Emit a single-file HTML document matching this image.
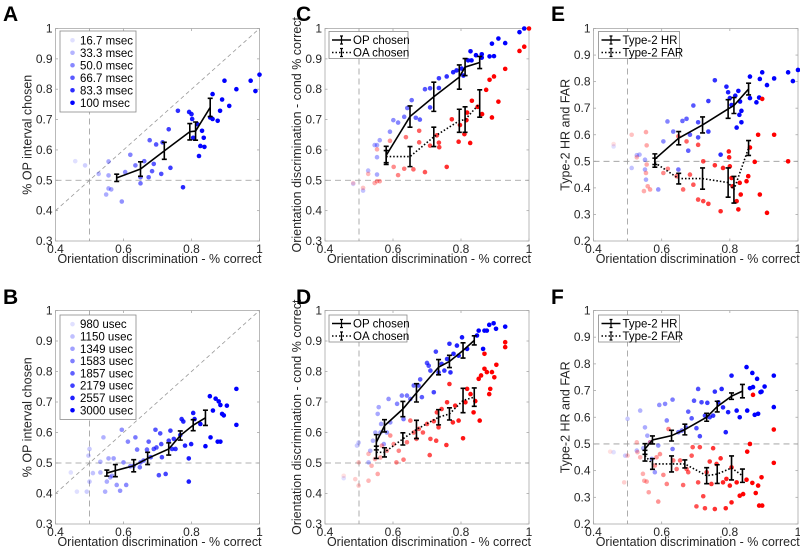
<!DOCTYPE html>
<html><head><meta charset="utf-8"><style>
html,body{margin:0;padding:0;background:#fff;}
svg{display:block;font-family:"Liberation Sans",sans-serif;}
</style></head><body>
<svg id="fig" width="800" height="555" viewBox="0 0 800 555"></svg>
<script>
const xMeansTop=[0.58,0.65,0.72,0.795,0.812,0.855];
const aMeanY=[0.508,0.537,0.597,0.66,0.662,0.74];
const aErr=[0.012,0.024,0.028,0.027,0.03,0.03];
const aPtsX=[0.458,0.487,0.527,0.556,0.556,0.549,0.556,0.564,0.595,0.605,0.62,0.635,0.65,0.65,0.661,0.674,0.677,0.684,0.689,0.696,0.711,0.715,0.733,0.738,0.76,0.775,0.793,0.8,0.802,0.805,0.817,0.822,0.826,0.831,0.836,0.838,0.855,0.862,0.862,0.877,0.884,0.89,0.897,0.911,0.932,0.974,0.988,1.0];
const aPtsY=[0.563,0.549,0.521,0.562,0.516,0.453,0.473,0.47,0.43,0.527,0.584,0.549,0.49,0.51,0.563,0.51,0.632,0.53,0.554,0.618,0.521,0.625,0.668,0.541,0.729,0.477,0.725,0.718,0.702,0.64,0.685,0.58,0.613,0.663,0.64,0.61,0.707,0.784,0.702,0.696,0.729,0.766,0.828,0.745,0.8,0.828,0.794,0.848];
const cOpY=[0.582,0.71,0.775,0.84,0.873,0.888];
const cOpErr=[0.03,0.035,0.048,0.04,0.028,0.02];
const cOaY=[0.578,0.578,0.643,0.696,0.7,0.753];
const cOaErr=[0.02,0.033,0.032,0.038,0.042,0.045];
const cBlueX=[0.483,0.512,0.527,0.546,0.553,0.553,0.553,0.561,0.591,0.601,0.615,0.633,0.642,0.655,0.667,0.679,0.694,0.709,0.709,0.735,0.735,0.758,0.777,0.787,0.802,0.807,0.821,0.828,0.831,0.844,0.861,0.861,0.884,0.891,0.897,0.91,0.93,0.972,0.986];
const cBlueY=[0.488,0.466,0.532,0.616,0.616,0.519,0.576,0.632,0.66,0.698,0.69,0.709,0.738,0.764,0.706,0.7,0.8,0.803,0.74,0.836,0.804,0.842,0.856,0.862,0.868,0.845,0.895,0.925,0.895,0.912,0.915,0.904,0.908,0.95,0.909,0.967,0.952,0.988,1.0];
const cRedX=[0.483,0.512,0.527,0.546,0.553,0.553,0.561,0.591,0.602,0.615,0.633,0.638,0.66,0.677,0.677,0.694,0.709,0.729,0.735,0.736,0.758,0.773,0.793,0.797,0.81,0.816,0.818,0.827,0.832,0.849,0.862,0.874,0.884,0.891,0.897,0.91,0.93,0.972,0.986,1.0];
const cRedY=[0.491,0.475,0.521,0.491,0.497,0.602,0.497,0.63,0.544,0.517,0.538,0.642,0.536,0.663,0.625,0.527,0.614,0.648,0.624,0.609,0.544,0.701,0.627,0.682,0.652,0.698,0.723,0.623,0.762,0.742,0.718,0.798,0.831,0.707,0.842,0.759,0.867,0.926,0.94,1.0];
const eHrY=[0.508,0.587,0.637,0.697,0.71,0.772];
const eHrErr=[0.02,0.025,0.03,0.035,0.03,0.022];
const eFarY=[0.495,0.435,0.435,0.42,0.393,0.55];
const eFarErr=[0.017,0.02,0.04,0.055,0.05,0.028];
const eBlueX=[0.459,0.512,0.527,0.535,0.551,0.554,0.551,0.59,0.605,0.617,0.634,0.649,0.661,0.673,0.678,0.683,0.693,0.707,0.707,0.737,0.737,0.756,0.773,0.79,0.795,0.8,0.805,0.816,0.825,0.828,0.83,0.834,0.82,0.834,0.859,0.859,0.878,0.886,0.888,0.895,0.909,0.93,0.971,0.985,1.0];
const eBlueY=[0.556,0.475,0.523,0.525,0.506,0.431,0.469,0.394,0.575,0.65,0.612,0.469,0.652,0.66,0.54,0.6,0.71,0.647,0.59,0.727,0.612,0.805,0.525,0.781,0.76,0.738,0.712,0.747,0.765,0.675,0.725,0.69,0.627,0.647,0.819,0.738,0.722,0.74,0.81,0.835,0.787,0.812,0.835,0.802,0.844];
const eRedX=[0.459,0.512,0.527,0.548,0.554,0.556,0.554,0.559,0.556,0.566,0.605,0.618,0.644,0.649,0.663,0.673,0.683,0.693,0.707,0.707,0.722,0.722,0.737,0.756,0.773,0.78,0.797,0.798,0.8,0.805,0.808,0.82,0.825,0.829,0.832,0.849,0.854,0.859,0.873,0.883,0.888,0.895,0.93,0.909,0.971];
const eRedY=[0.565,0.6,0.515,0.388,0.61,0.56,0.456,0.406,0.488,0.394,0.456,0.472,0.444,0.594,0.394,0.575,0.45,0.412,0.562,0.356,0.5,0.35,0.34,0.485,0.312,0.475,0.537,0.515,0.481,0.437,0.406,0.35,0.319,0.419,0.375,0.425,0.444,0.552,0.498,0.6,0.375,0.735,0.6,0.306,0.5];
const bMeanX=[0.551,0.576,0.63,0.671,0.733,0.767,0.805,0.841];
const bMeanY=[0.467,0.475,0.491,0.515,0.546,0.59,0.624,0.648];
const bErr=[0.01,0.02,0.02,0.02,0.02,0.015,0.018,0.025];
const bPtsX=[0.445,0.463,0.492,0.497,0.5,0.5,0.51,0.532,0.532,0.541,0.546,0.551,0.556,0.561,0.566,0.571,0.58,0.59,0.595,0.6,0.608,0.613,0.62,0.63,0.635,0.64,0.648,0.65,0.659,0.669,0.674,0.68,0.689,0.694,0.697,0.704,0.708,0.711,0.713,0.724,0.733,0.738,0.743,0.748,0.753,0.767,0.771,0.776,0.781,0.792,0.792,0.799,0.805,0.809,0.826,0.841,0.854,0.856,0.863,0.871,0.88,0.877,0.885,0.885,0.89,0.895,0.904,0.932,0.932];
const bPtsY=[0.469,0.406,0.406,0.524,0.546,0.439,0.467,0.469,0.504,0.584,0.406,0.439,0.515,0.453,0.458,0.515,0.428,0.409,0.609,0.502,0.428,0.57,0.489,0.491,0.584,0.544,0.486,0.502,0.508,0.544,0.57,0.519,0.546,0.609,0.551,0.46,0.597,0.562,0.519,0.464,0.573,0.606,0.546,0.579,0.546,0.592,0.644,0.636,0.557,0.515,0.439,0.562,0.664,0.644,0.628,0.555,0.719,0.584,0.672,0.711,0.702,0.57,0.57,0.69,0.661,0.656,0.688,0.743,0.625];
const dMeanX=[0.551,0.575,0.629,0.669,0.734,0.766,0.806,0.839];
const dOpY=[0.568,0.622,0.677,0.73,0.814,0.833,0.869,0.902];
const dOpErr=[0.025,0.02,0.025,0.03,0.025,0.02,0.025,0.015];
const dOaY=[0.535,0.535,0.579,0.61,0.65,0.661,0.705,0.716];
const dOaErr=[0.02,0.015,0.02,0.03,0.025,0.02,0.04,0.03];
const dBlueX=[0.455,0.494,0.499,0.528,0.533,0.541,0.548,0.555,0.558,0.563,0.565,0.573,0.582,0.587,0.592,0.612,0.626,0.631,0.641,0.651,0.661,0.675,0.68,0.685,0.7,0.705,0.71,0.72,0.726,0.734,0.743,0.751,0.759,0.766,0.769,0.778,0.788,0.793,0.803,0.818,0.847,0.852,0.865,0.869,0.876,0.883,0.896,0.903,0.93];
const dBlueY=[0.45,0.557,0.567,0.502,0.54,0.573,0.6,0.661,0.683,0.6,0.628,0.562,0.6,0.71,0.633,0.694,0.721,0.644,0.721,0.71,0.754,0.754,0.774,0.716,0.828,0.819,0.803,0.732,0.865,0.797,0.825,0.803,0.841,0.891,0.797,0.858,0.885,0.852,0.912,0.874,0.918,0.934,0.874,0.934,0.934,0.953,0.958,0.94,0.947];
const dRedX=[0.455,0.489,0.499,0.499,0.528,0.528,0.537,0.547,0.555,0.563,0.567,0.582,0.592,0.602,0.61,0.617,0.631,0.641,0.651,0.661,0.669,0.676,0.688,0.7,0.708,0.71,0.72,0.727,0.729,0.734,0.743,0.757,0.759,0.766,0.776,0.783,0.793,0.806,0.813,0.818,0.828,0.837,0.842,0.852,0.855,0.859,0.869,0.869,0.876,0.883,0.886,0.891,0.898,0.904,0.93,0.93];
const dRedY=[0.458,0.447,0.426,0.502,0.442,0.53,0.491,0.513,0.464,0.518,0.557,0.54,0.59,0.562,0.502,0.54,0.511,0.568,0.639,0.6,0.579,0.612,0.6,0.628,0.526,0.579,0.637,0.573,0.666,0.617,0.677,0.559,0.699,0.759,0.633,0.688,0.639,0.581,0.699,0.743,0.726,0.666,0.703,0.776,0.639,0.787,0.858,0.809,0.798,0.726,0.743,0.798,0.781,0.822,0.896,0.88];
const fMeanX=[0.551,0.573,0.629,0.668,0.732,0.763,0.805,0.837];
const fHrY=[0.481,0.515,0.531,0.554,0.6,0.64,0.679,0.698];
const fHrErr=[0.02,0.015,0.02,0.02,0.015,0.02,0.012,0.025];
const fFarY=[0.456,0.425,0.425,0.425,0.381,0.387,0.41,0.381];
const fFarErr=[0.02,0.02,0.03,0.015,0.03,0.035,0.045,0.025];
const fBlueX=[0.459,0.493,0.5,0.527,0.537,0.546,0.551,0.558,0.566,0.571,0.58,0.59,0.593,0.61,0.615,0.632,0.632,0.649,0.659,0.671,0.678,0.688,0.695,0.702,0.707,0.712,0.717,0.727,0.734,0.741,0.751,0.756,0.766,0.776,0.78,0.788,0.795,0.805,0.82,0.829,0.849,0.851,0.859,0.866,0.868,0.873,0.88,0.883,0.89,0.893,0.902,0.929,0.929];
const fBlueY=[0.469,0.456,0.594,0.475,0.625,0.484,0.562,0.531,0.506,0.444,0.394,0.494,0.646,0.65,0.588,0.481,0.666,0.544,0.55,0.562,0.621,0.596,0.662,0.559,0.706,0.529,0.656,0.606,0.654,0.6,0.606,0.696,0.656,0.706,0.637,0.544,0.619,0.756,0.625,0.6,0.788,0.625,0.709,0.766,0.713,0.609,0.744,0.613,0.694,0.696,0.715,0.756,0.638];
const fRedX=[0.449,0.49,0.5,0.527,0.529,0.537,0.545,0.549,0.556,0.562,0.566,0.58,0.585,0.59,0.595,0.605,0.615,0.62,0.634,0.644,0.654,0.663,0.673,0.678,0.688,0.691,0.702,0.707,0.712,0.722,0.727,0.732,0.741,0.746,0.751,0.756,0.761,0.773,0.78,0.788,0.79,0.8,0.805,0.805,0.82,0.829,0.839,0.849,0.851,0.859,0.866,0.868,0.876,0.883,0.886,0.893,0.895,0.929,0.929];
const fRedY=[0.471,0.356,0.456,0.506,0.469,0.45,0.388,0.362,0.359,0.319,0.506,0.419,0.45,0.284,0.462,0.384,0.35,0.556,0.438,0.406,0.438,0.346,0.406,0.394,0.456,0.488,0.266,0.356,0.488,0.304,0.259,0.394,0.434,0.35,0.484,0.256,0.425,0.446,0.356,0.259,0.369,0.344,0.281,0.412,0.356,0.306,0.312,0.366,0.471,0.5,0.354,0.684,0.316,0.344,0.269,0.375,0.269,0.429,0.554];
const xTicks=[0.4,0.6,0.8,1];
const yTicks37=[0.3,0.4,0.5,0.6,0.7,0.8,0.9,1];
const yTicks27=[0.2,0.3,0.4,0.5,0.6,0.7,0.8,0.9,1];
const bLegend=["980 usec","1150 usec","1349 usec","1583 usec","1857 usec","2179 usec","2557 usec","3000 usec"];
const aLegend=["16.7 msec","33.3 msec","50.0 msec","66.7 msec","83.3 msec","100 msec"];

const NS="http://www.w3.org/2000/svg";
const svg=document.getElementById('fig');
function el(tag,attrs,parent,text){const e=document.createElementNS(NS,tag);for(const k in attrs)e.setAttribute(k,attrs[k]);if(text!==undefined)e.textContent=text;(parent||svg).appendChild(e);return e;}
function fmt(v){return v===1?"1":v.toFixed(1);}
function alphaFor(x){let t=(x-0.46)/0.38;t=Math.max(0,Math.min(1,t));return 0.12+0.88*t;}

function makePanel(name,L,R,T,B,ymin,ymax,yt,ytitle,letter,lx,ly){
  const g=el('g',{});  
  const sx=v=>L+(v-0.4)/0.6*(R-L);
  const sy=v=>B-(v-ymin)/(ymax-ymin)*(B-T);
  const ax=el('rect',{x:L,y:T,width:R-L,height:B-T,fill:'none',stroke:'#a8a8a8','stroke-width':0.8},g);
   
  xTicks.forEach(v=>{
    el('line',{x1:sx(v),x2:sx(v),y1:B,y2:B-2.5,stroke:'#a8a8a8','stroke-width':0.8},g);
    el('line',{x1:sx(v),x2:sx(v),y1:T,y2:T+2.5,stroke:'#a8a8a8','stroke-width':0.8},g);
    const t=el('text',{x:sx(v),y:B+12,'font-size':12,'text-anchor':'middle',fill:'#262626'},g,fmt(v));
     
  });
  yt.forEach(v=>{
    el('line',{x1:L,x2:L+2.5,y1:sy(v),y2:sy(v),stroke:'#a8a8a8','stroke-width':0.8},g);
    el('line',{x1:R,x2:R-2.5,y1:sy(v),y2:sy(v),stroke:'#a8a8a8','stroke-width':0.8},g);
    const t=el('text',{x:L-3,y:sy(v)+4,'font-size':12,'text-anchor':'end',fill:'#262626'},g,fmt(v));
     
  });
  const xt=el('text',{x:(L+R)/2+2,y:B+22,'font-size':12.5,'text-anchor':'middle',fill:'#262626',textLength:204,lengthAdjust:'spacingAndGlyphs'},g,'Orientation discrimination - % correct');
   
  const cy=(T+B)/2, cx=L-24;
  const ytl=el('text',{x:cx,y:cy,'font-size':12.5,'text-anchor':'middle',fill:'#262626',transform:`rotate(-90 ${cx} ${cy})`},g,ytitle);
   
  const lt=el('text',{x:lx,y:ly,'font-size':21,'font-weight':'bold',fill:'#000'},svg,letter);
   
  el('line',{x1:L,x2:R,y1:sy(0.5),y2:sy(0.5),stroke:'#999','stroke-width':0.8,'stroke-dasharray':'6,4'},g);
  el('line',{x1:sx(0.5),x2:sx(0.5),y1:T,y2:B,stroke:'#999','stroke-width':0.8,'stroke-dasharray':'6,4'},g);
  return {g,sx,sy,L,R,T,B};
}
function scatter(p,xs,ys,color,name){
  xs.forEach((x,i)=>{
    const c=el('circle',{cx:p.sx(x),cy:p.sy(ys[i]),r:2.3,fill:color,'fill-opacity':alphaFor(x)},p.g);
     
  });
}
function errLine(p,xs,ys,es,dashed,name){
  const d=xs.map((x,i)=>(i?'L':'M')+p.sx(x)+','+p.sy(ys[i])).join(' ');
  const pl=el('path',{d,fill:'none',stroke:'#000','stroke-width':1.6,'stroke-dasharray':dashed?'1.5,2':'none'},p.g);
   
  xs.forEach((x,i)=>{
    const X=p.sx(x),y1=p.sy(ys[i]-es[i]),y2=p.sy(ys[i]+es[i]);
    const e=el('path',{d:`M${X},${y1}L${X},${y2}M${X-2.5},${y1}L${X+2.5},${y1}M${X-2.5},${y2}L${X+2.5},${y2}`,stroke:'#000','stroke-width':1.6,fill:'none'},p.g);
     
  });
}
function diag(p){el('line',{x1:p.sx(0.4),y1:p.sy(0.4),x2:p.sx(1),y2:p.sy(1),stroke:'#999','stroke-width':0.8,'stroke-dasharray':'4,3'},p.g);}
function scatterLegend(p,x,y,w,rowH,labels,name){
  const h=rowH*labels.length+6;
  const lg=el('g',{},p.g);  
  el('rect',{x,y,width:w,height:h,fill:'#fff',stroke:'#8a8a8a','stroke-width':0.8},lg);
  labels.forEach((s,i)=>{
    const yy=y+rowH*(i+0.5)+3;
    const a=0.12+0.88*i/(labels.length-1);
    const c=el('circle',{cx:x+12.5,cy:yy,r:2.3,fill:'#0000ff','fill-opacity':a},lg);
     
    const t=el('text',{x:x+20,y:yy+4,'font-size':11.5,fill:'#000'},lg,s);
     
  });
}
function lineLegend(p,x,y,w,labels,name){
  const lg=el('g',{},p.g);  
  el('rect',{x,y,width:w,height:27,fill:'#fff',stroke:'#8a8a8a','stroke-width':0.8},lg);
  labels.forEach((s,i)=>{
    const yy=y+8.5+i*12.5;
    el('line',{x1:x+3,x2:x+22,y1:yy,y2:yy,stroke:'#000','stroke-width':1.4,'stroke-dasharray':i?'1.5,2':'none'},lg);
    el('path',{d:`M${x+12.5},${yy-4}L${x+12.5},${yy+4}M${x+11},${yy-4}L${x+14},${yy-4}M${x+11},${yy+4}L${x+14},${yy+4}`,stroke:'#000','stroke-width':1.2},lg);
    const t=el('text',{x:x+24,y:yy+4,'font-size':11.5,fill:'#000'},lg,s);
     
  });
}
const TT=28.5,TB=241,BT=310.5,BB=524;
let pA=makePanel('a',55.5,259.5,TT,TB,0.3,1,yTicks37,'% OP interval chosen','A',3,21);
diag(pA); scatter(pA,aPtsX,aPtsY,'#0000ff','point-a'); errLine(pA,xMeansTop,aMeanY,aErr,false,'mean-a');
scatterLegend(pA,60,31,76,12.5,aLegend,'legend-a');
let pC=makePanel('c',325,529,TT,TB,0.3,1,yTicks37,'Orientation discrimination - cond % correct','C',296,21);
scatter(pC,cBlueX,cBlueY,'#0000ff','point-c-op'); scatter(pC,cRedX,cRedY,'#ff0000','point-c-oa');
errLine(pC,xMeansTop,cOpY,cOpErr,false,'op-chosen'); errLine(pC,xMeansTop,cOaY,cOaErr,true,'oa-chosen');
lineLegend(pC,329,31.5,79,['OP chosen','OA chosen'],'legend-c');
let pE=makePanel('e',593.5,798,TT,TB,0.2,1,yTicks27,'Type-2 HR and FAR','E',551,21);
scatter(pE,eBlueX,eBlueY,'#0000ff','point-e-hr'); scatter(pE,eRedX,eRedY,'#ff0000','point-e-far');
errLine(pE,xMeansTop,eHrY,eHrErr,false,'type2-hr'); errLine(pE,xMeansTop,eFarY,eFarErr,true,'type2-far');
lineLegend(pE,598.5,31.5,81,['Type-2 HR','Type-2 FAR'],'legend-e');
let pB=makePanel('b',55.5,259.5,BT,BB,0.3,1,yTicks37,'% OP interval chosen','B',3,304);
diag(pB); scatter(pB,bPtsX,bPtsY,'#0000ff','point-b'); errLine(pB,bMeanX,bMeanY,bErr,false,'mean-b');
scatterLegend(pB,60,315,76,12.3,bLegend,'legend-b');
let pD=makePanel('d',325,529,BT,BB,0.3,1,yTicks37,'Orientation discrimination - cond % correct','D',296,304);
scatter(pD,dBlueX,dBlueY,'#0000ff','point-d-op'); scatter(pD,dRedX,dRedY,'#ff0000','point-d-oa');
errLine(pD,dMeanX,dOpY,dOpErr,false,'op-chosen-d'); errLine(pD,dMeanX,dOaY,dOaErr,true,'oa-chosen-d');
lineLegend(pD,329,315,78,['OP chosen','OA chosen'],'legend-d');
let pF=makePanel('f',593.5,798,BT,BB,0.2,1,yTicks27,'Type-2 HR and FAR','F',551,304);
scatter(pF,fBlueX,fBlueY,'#0000ff','point-f-hr'); scatter(pF,fRedX,fRedY,'#ff0000','point-f-far');
errLine(pF,fMeanX,fHrY,fHrErr,false,'type2-hr-f'); errLine(pF,fMeanX,fFarY,fFarErr,true,'type2-far-f');
lineLegend(pF,598.5,315,81,['Type-2 HR','Type-2 FAR'],'legend-f');
</script>
</body></html>
